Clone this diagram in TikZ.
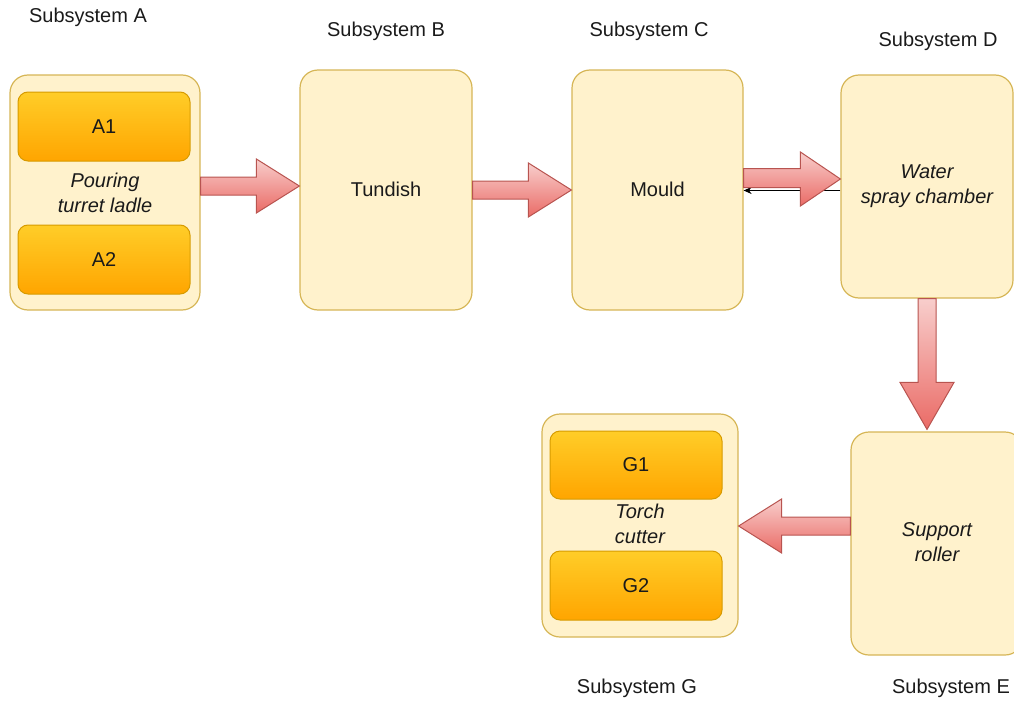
\documentclass[tikz,border=0pt]{standalone}
\usepackage{fontspec}
\setmainfont{Liberation Sans}
\usetikzlibrary{calc,arrows.meta}
\definecolor{boxfill}{HTML}{FFF2CC}
\definecolor{boxdraw}{HTML}{D6B656}
\definecolor{subtop}{HTML}{FFCD28}
\definecolor{subbot}{HTML}{FFA500}
\definecolor{subdraw}{HTML}{D79B00}
\definecolor{arrtop}{HTML}{F8CECC}
\definecolor{arrbot}{HTML}{EA6B66}
\definecolor{arrdraw}{HTML}{B85450}
\definecolor{txt}{HTML}{1A1A1A}
\begin{document}
\begin{tikzpicture}[x=1pt,y=-1pt,
  font=\fontsize{20}{25}\selectfont, text=txt,
  outerbox/.style={draw=boxdraw, fill=boxfill, line width=1.2pt, rounded corners=18pt, inner sep=0pt},
  innerbox/.style={draw=subdraw, top color=subtop, bottom color=subbot, line width=1pt, rounded corners=10pt, inner sep=0pt, minimum width=172pt},
  lab/.style={align=center, inner sep=0pt},
  ital/.style={align=center, inner sep=0pt, font=\fontsize{20}{25}\selectfont\itshape},
  barrow/.style={draw=arrdraw, top color=arrtop, bottom color=arrbot, line width=1pt, line join=miter}
]
\useasboundingbox (0,0) rectangle (1014,701);

% outer boxes
\node[outerbox, minimum width=190pt, minimum height=235pt] (A) at (105,192.5) {};
\node[outerbox, minimum width=172pt, minimum height=240pt] (B) at (386,190) {};
\node[outerbox, minimum width=171pt, minimum height=240pt] (C) at (657.5,190) {};
\node[outerbox, minimum width=172pt, minimum height=223pt] (D) at (927,186.5) {};
\node[outerbox, minimum width=172pt, minimum height=223pt] (E) at (937,543.5) {};
\node[outerbox, minimum width=196pt, minimum height=223pt] (G) at (640,525.5) {};

% inner boxes
\node[innerbox, minimum height=69pt] (A1) at (104,126.5) {A1};
\node[innerbox, minimum height=69pt] (A2) at (104,259.5) {A2};
\node[innerbox, minimum height=68pt] (G1) at (636,465) {G1};
\node[innerbox, minimum height=69pt] (G2) at (636,585.5) {G2};

% box texts
\node[ital] (At) at (105,192.5) {Pouring\\turret ladle};
\node[lab] (Bt) at (386,189) {Tundish};
\node[lab] (Ct) at (657.5,189) {Mould};
\node[ital] (Dt) at (927,186) {Water\\spray chamber};
\node[ital] (Et) at (937,542) {Support\\roller};
\node[ital] (Gt) at (640,524) {Torch\\cutter};

% subsystem labels
\node[lab] (LA) at (88,17) {Subsystem A};
\node[lab] (LB) at (386,31) {Subsystem B};
\node[lab] (LC) at (649,31) {Subsystem C};
\node[lab] (LD) at (938,41) {Subsystem D};
\node[lab] (LG) at (637,688) {Subsystem G};
\node[lab] (LE) at (951,688) {Subsystem E};

% thin black connector D -> C (mostly hidden)
\draw[line width=1.5pt, -{Stealth[length=8pt,width=7pt]}] (D.west |- 0,190.5) -- (C.east |- 0,190.5);

% block arrows
% A -> B
\coordinate (abS) at (A.east |- 0,186);
\coordinate (abT) at (B.west |- 0,186);
\path[barrow] ($(abS)+(0,-9)$) -- ($(abT)+(-43,-9)$) -- ($(abT)+(-43,-27)$) -- (abT)
  -- ($(abT)+(-43,27)$) -- ($(abT)+(-43,9)$) -- ($(abS)+(0,9)$) -- cycle;
% B -> C
\coordinate (bcS) at (B.east |- 0,190);
\coordinate (bcT) at (C.west |- 0,190);
\path[barrow] ($(bcS)+(0,-9)$) -- ($(bcT)+(-43,-9)$) -- ($(bcT)+(-43,-27)$) -- (bcT)
  -- ($(bcT)+(-43,27)$) -- ($(bcT)+(-43,9)$) -- ($(bcS)+(0,9)$) -- cycle;
% C -> D
\coordinate (cdS) at (C.east |- 0,178);
\coordinate (cdT) at (D.west |- 0,179);
\path[barrow] ($(cdS)+(0,-9.5)$) -- ($(cdT)+(-40,-10.5)$) -- ($(cdT)+(-40,-27)$) -- (cdT)
  -- ($(cdT)+(-40,27)$) -- ($(cdT)+(-40,8.5)$) -- ($(cdS)+(0,9.5)$) -- cycle;
% D -> E
\coordinate (deS) at (D.south);
\coordinate (deT) at ($(D.south |- E.north)+(0,-2)$);
\path[barrow] ($(deS)+(-9,0)$) -- ($(deT)+(-9,-47)$) -- ($(deT)+(-27,-47)$) -- (deT)
  -- ($(deT)+(27,-47)$) -- ($(deT)+(9,-47)$) -- ($(deS)+(9,0)$) -- cycle;
% E -> G
\coordinate (egS) at (E.west |- 0,526);
\coordinate (egT) at (G.east |- 0,526);
\path[barrow] ($(egS)+(0,-9)$) -- ($(egT)+(43,-9)$) -- ($(egT)+(43,-27)$) -- (egT)
  -- ($(egT)+(43,27)$) -- ($(egT)+(43,9)$) -- ($(egS)+(0,9)$) -- cycle;
\end{tikzpicture}
\end{document}
